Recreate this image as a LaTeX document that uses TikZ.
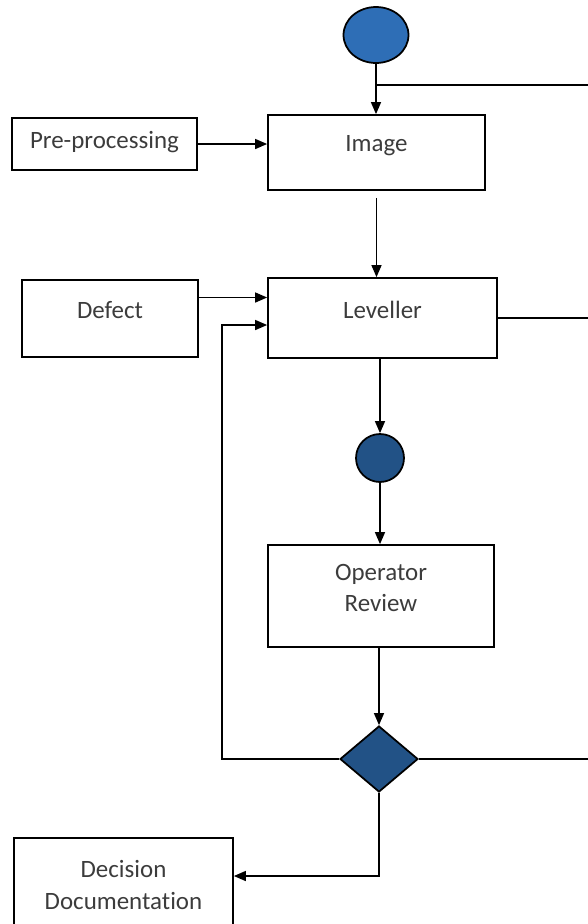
\documentclass[tikz,border=0pt]{standalone}
\usepackage{fontspec}
\setmainfont{Carlito}[Ligatures=NoCommon]
\usetikzlibrary{arrows.meta,shapes.geometric}
\definecolor{topblue}{RGB}{46,110,182}
\definecolor{darkblue}{RGB}{34,82,134}
\definecolor{textgray}{RGB}{60,60,60}

\begin{document}
\begin{tikzpicture}[x=0.02cm, y=-0.02cm,
    box/.style={draw, line width=1pt, inner sep=0pt},
    boxtext/.style={text=textgray, align=center, inner sep=0pt,
        font=\fontsize{14.2}{18}\selectfont},
    flow/.style={line width=0.8pt, -{Triangle[length=0.24cm, width=0.2cm]}},
    plain/.style={line width=0.8pt}]
    \useasboundingbox (0,0) rectangle (588,924);
    \clip (0,0) rectangle (588,924);

    % Draw the start circle and the first boxes
    \node[ellipse, draw, line width=1pt, fill=topblue, minimum width=1.3cm, minimum height=1.12cm, inner sep=0pt] (start) at (376,35) {};
    \node[box, minimum width=3.7cm, minimum height=1.04cm] (pre) at (104.5,144) {};
    \node[boxtext] (preT) at ([yshift=0.04cm]pre.center) {Pre-processing};
    \node[box, minimum width=4.34cm, minimum height=1.5cm] (image) at (376.5,152.5) {};
    \node[boxtext] (imageT) at ([yshift=0.14cm]image.center) {Image};

    % Draw the middle row
    \node[box, minimum width=3.52cm, minimum height=1.54cm] (defect) at (110,318.5) {};
    \node[boxtext] (defectT) at ([yshift=0.16cm]defect.center) {Defect};
    \node[box, minimum width=4.58cm, minimum height=1.6cm] (leveller) at (382.5,318) {};
    \node[boxtext] (levellerT) at ([yshift=0.16cm]leveller.center) {Leveller};
    \node[circle, draw, line width=1pt, fill=darkblue, minimum size=0.96cm, inner sep=0pt] (dot) at (380,458) {};

    % Draw the review and decision parts
    \node[box, minimum width=4.52cm, minimum height=2.04cm] (review) at (381,596) {};
    \node[boxtext] (reviewT) at ([yshift=0.16cm]review.center) {Operator\\Review};
    \node[diamond, draw, line width=1pt, fill=darkblue, minimum width=1.56cm, minimum height=1.32cm, inner sep=0pt] (choice) at (379,759) {};
    \node[box, minimum width=4.38cm, minimum height=1.88cm] (decision) at (123.5,885) {};
    \node[boxtext] (decisionT) at (decision.center) {Decision\\Documentation};

    % Free ends on the right and the feedback corner
    \coordinate (topR) at (588,85);
    \coordinate (levR) at (588,320);
    \coordinate (choiceR) at (588,759);
    \coordinate (back) at (222,325);

    % Connectors
    \draw[flow] (start.south) -- (start.south |- image.north);
    \draw[plain] (start.south |- topR) -- (topR);
    \draw[flow] (pre.east) -- (pre.east -| image.west);
    \draw[flow] ([yshift=-0.14cm]image.south) -- (image.south |- leveller.north);
    \draw[flow] ([yshift=0.42cm]defect.east) -- ([yshift=0.42cm]defect.east -| leveller.west);
    \draw[plain] (leveller.east) -- (leveller.east -| levR);
    \draw[flow] (dot |- leveller.south) -- (dot.north);
    \draw[flow] (dot.south) -- (dot.south |- review.north);
    \draw[flow] (choice |- review.south) -- (choice.north);
    \draw[flow] (choice.west) -| (back) -- (back -| leveller.west);
    \draw[plain] (choice.east) -- (choiceR);
    \draw[flow] (choice.south) |- ([yshift=0.18cm]decision.east);
\end{tikzpicture}
\end{document}
